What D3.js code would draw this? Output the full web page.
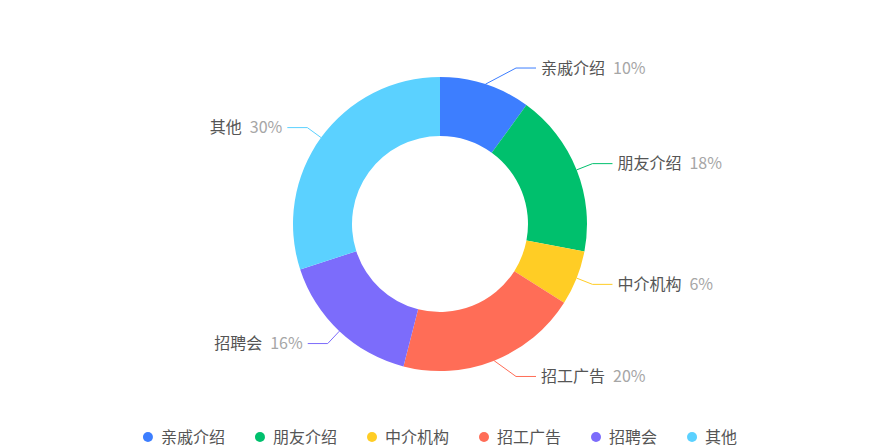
<!DOCTYPE html>
<html>
<head>
<meta charset="utf-8">
<script src="https://cdn.jsdelivr.net/npm/d3@7/dist/d3.min.js"></script>
<style>
  html, body { margin: 0; padding: 0; background: #fff; }
  svg { display: block; font-family: "Noto Sans CJK SC", "Noto Sans", sans-serif; }
</style>
</head>
<body>
<svg id="chart" width="880" height="448"></svg>
<script>
const categories = ['亲戚介绍', '朋友介绍', '中介机构', '招工广告', '招聘会', '其他'];
const values = [10, 18, 6, 20, 16, 30];
const colors = ['#3D7EFF', '#00C06D', '#FFCD25', '#FF6D57', '#7C6CFB', '#5BD1FF'];

const W = 880, H = 448;
const cx = 440, cy = 224;
const outerR = 147, innerR = 88;
const len1 = 17, len2 = 20, minDx = 76;

const svg = d3.select('#chart');
const total = d3.sum(values);
const data = categories.map((c, i) => ({ name: c, value: values[i], color: colors[i] }));

const pie = d3.pie().value(d => d.value).sort(null);
const arcs = pie(data);
const arc = d3.arc().innerRadius(innerR).outerRadius(outerR);

const g = svg.append('g').attr('transform', `translate(${cx},${cy})`);
g.selectAll('path.slice').data(arcs).enter().append('path')
  .attr('class', 'slice')
  .attr('d', arc)
  .attr('fill', d => d.data.color);

// label lines and labels
arcs.forEach(a => {
  const mid = (a.startAngle + a.endAngle) / 2;
  const sx = Math.sin(mid), sy = -Math.cos(mid);
  const right = sx >= 0;
  const p0 = [outerR * sx, outerR * sy];
  let bx = (outerR + len1) * sx;
  const by = (outerR + len1) * sy;
  if (Math.abs(bx) < minDx) bx = right ? minDx : -minDx;
  const ex = bx + (right ? len2 : -len2);
  g.append('polyline')
    .attr('points', [p0, [bx, by], [ex, by]].map(p => p.join(',')).join(' '))
    .attr('fill', 'none')
    .attr('stroke', a.data.color)
    .attr('stroke-width', 1);
  const t = g.append('text')
    .attr('x', ex + (right ? 5 : -5))
    .attr('y', by)
    .attr('dy', '0.36em')
    .attr('text-anchor', right ? 'start' : 'end')
    .style('font-size', '16px');
  t.append('tspan').attr('fill', '#555555').text(a.data.name);
  t.append('tspan').attr('dx', 8).attr('fill', '#A6A6A6')
    .text(Math.round(a.data.value / total * 100) + '%');
});

// legend
const legendY = 437;
const fs = 16, circleR = 5, circleGap = 8, itemGap = 30;
const measure = svg.append('text').style('font-size', fs + 'px').attr('visibility', 'hidden');
const widths = categories.map(c => { measure.text(c); return measure.node().getComputedTextLength(); });
measure.remove();
const itemW = widths.map(w => circleR * 2 + circleGap + w);
const totalW = d3.sum(itemW) + itemGap * (categories.length - 1);
let x = (W - totalW) / 2;
const lg = svg.append('g');
categories.forEach((c, i) => {
  lg.append('circle').attr('cx', x + circleR).attr('cy', legendY).attr('r', circleR).attr('fill', colors[i]);
  lg.append('text').attr('x', x + circleR * 2 + circleGap).attr('y', legendY).attr('dy', '0.36em')
    .style('font-size', fs + 'px').attr('fill', '#555555').text(c);
  x += itemW[i] + itemGap;
});
</script>
</body>
</html>
